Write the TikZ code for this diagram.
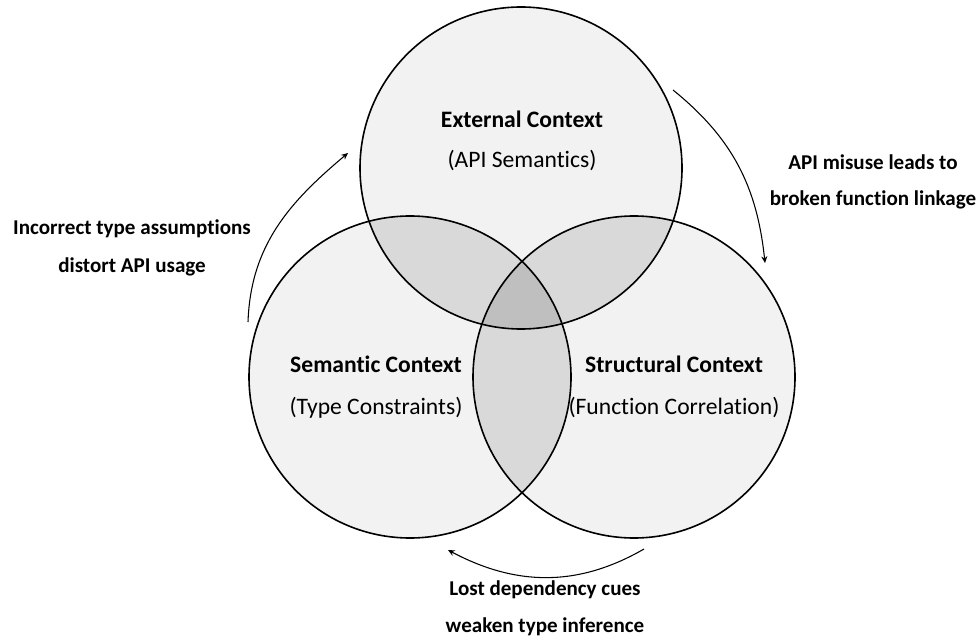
\documentclass[tikz,border=0pt]{standalone}
\usepackage{fontspec}
\setmainfont{Carlito}[Ligatures=NoCommon]
\usetikzlibrary{arrows.meta, positioning}

\definecolor{ringfill}{HTML}{F2F2F2}
\definecolor{pairfill}{HTML}{D9D9D9}
\definecolor{corefill}{HTML}{BFBFBF}

% circle outlines, used for fills and clips
\newcommand{\extring}{(521,168) circle (161)}
\newcommand{\semring}{(410,377) circle (161)}
\newcommand{\strring}{(634,377) circle (161)}

\begin{document}
\begin{tikzpicture}[x=0.75pt, y=-0.75pt,
		title/.style={font=\fontsize{17.7}{21}\selectfont\bfseries, inner sep=1pt},
		sub/.style={font=\fontsize{17.7}{21}\selectfont, inner sep=1pt},
		note/.style={font=\fontsize{15.8}{19}\selectfont\bfseries, inner sep=1pt},
		every edge/.style={draw, -{Stealth[length=5pt, width=4.5pt]}, line width=0.8pt}]
		\useasboundingbox (0,0) rectangle (980,641);
		% Fills
		\fill[ringfill] \extring;
		\fill[ringfill] \semring;
		\fill[ringfill] \strring;
		\begin{scope}
			\clip \extring;
			\fill[pairfill] \semring;
			\fill[pairfill] \strring;
		\end{scope}
		\begin{scope}
			\clip \semring;
			\fill[pairfill] \strring;
			\clip \extring;
			\fill[corefill] \strring;
		\end{scope}
		% Outlines
		\draw[line width=1.2pt] \extring;
		\draw[line width=1.2pt] \semring;
		\draw[line width=1.2pt] \strring;
		% Nodes
		\node[title] (ext) at (522,119) {External Context};
		\node[sub] (extsub) at (522,161) {(API Semantics)};
		\node[title] (sem) at (376,364) {Semantic Context};
		\node[sub] (semsub) at (376,408) {(Type Constraints)};
		\node[title] (str) at (674,364) {Structural Context};
		\node[sub] (strsub) at (674,408) {(Function Correlation)};
		% Labels
		\node[note] (leftnote) at (132,229) {Incorrect type assumptions};
		\node[note] (leftnote2) at (132,267) {distort API usage};
		\node[note] (rightnote) at (873,162) {API misuse leads to};
		\node[note] (rightnote2) at (873,200) {broken function linkage};
		\node[note] (botnote) at (545,590) {Lost dependency cues};
		\node[note] (botnote2) at (545,627) {weaken type inference};
		% Arrow ends
		\coordinate (ls) at (248,322);
		\coordinate (le) at (348,153);
		\coordinate (rs) at (673,90);
		\coordinate (re) at (765,263);
		\coordinate (bs) at (644,549);
		\coordinate (be) at (448,550);
		% Edges
		\draw (ls) edge[out=88, in=220] (le);
		\draw (rs) edge[out=-39, in=96] (re);
		\draw (bs) edge[out=210, in=-28] (be);
	\end{tikzpicture}
\end{document}
